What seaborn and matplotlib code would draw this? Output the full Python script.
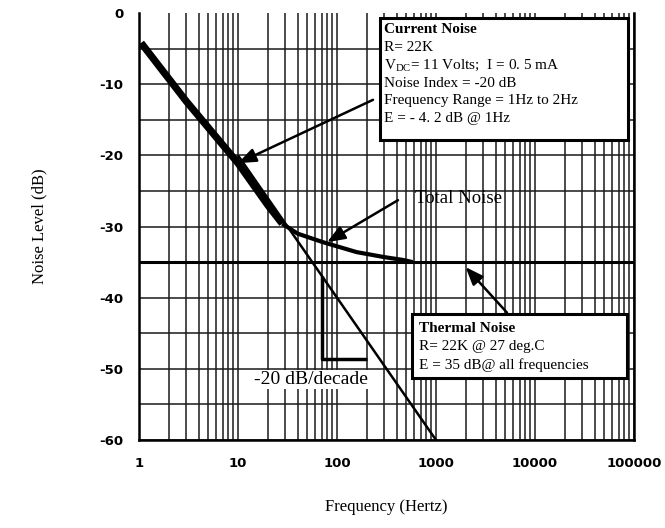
import numpy as np
import pandas as pd
import matplotlib
matplotlib.use("Agg")
import matplotlib.pyplot as plt
import matplotlib.ticker as mticker
from matplotlib.patches import Rectangle
import seaborn as sns

# ---- data ----
current_f = [1.05, 3.0, 10.0, 20.0, 28.0]
current_db = [-4.2, -12.4, -21.1, -27.0, -29.6]

total_f = [28.0, 40.0, 72.0, 158.0, 300.0, 464.0, 580.0]
total_db = [-29.6, -31.0, -32.2, -33.6, -34.3, -34.7, -35.0]

slope_f = [10.0, 1000.0]
slope_db = [-20.0, -60.0]

thermal_f = [1.0, 100000.0]
thermal_db = [-35.0, -35.0]

bracket_f = [70.5, 70.5, 200.0]
bracket_db = [-36.9, -48.6, -48.6]

x_ticks = [1, 10, 100, 1000, 10000, 100000]
x_tick_labels = ["1", "10", "100", "1000", "10000", "100000"]
y_ticks = [0, -10, -20, -30, -40, -50, -60]
y_tick_labels = ["0", "-10", "-20", "-30", "-40", "-50", "-60"]

current_lines = ["Current Noise", "R= 22K", r"V$_{\mathrm{DC}}$= 11 Volts;  I = 0. 5 mA",
                 "Noise Index = -20 dB", "Frequency Range = 1Hz to 2Hz", "E = - 4. 2 dB @ 1Hz"]
thermal_lines = ["Thermal Noise", "R= 22K @ 27 deg.C", "E = 35 dB@ all frequencies"]

sns.set_theme(style="white")
plt.rcParams["font.family"] = ["Liberation Serif", "DejaVu Serif"]
plt.rcParams["mathtext.fontset"] = "custom"
plt.rcParams["mathtext.rm"] = "Liberation Serif"
plt.rcParams["mathtext.it"] = "Liberation Serif:italic"
plt.rcParams["axes.unicode_minus"] = False

fig = plt.figure(figsize=(6.65, 5.28), dpi=100)
ax = fig.add_axes([139 / 665, 1 - 440 / 528, 495 / 665, 427 / 528])

ax.set_xscale("log")
ax.set_xlim(1, 100000)
ax.set_ylim(-60, 0)

# grid
ax.set_xticks(x_ticks)
ax.set_xticklabels(x_tick_labels)
ax.xaxis.set_minor_locator(mticker.LogLocator(base=10, subs=np.arange(2, 10)))
ax.xaxis.set_minor_formatter(mticker.NullFormatter())
ax.set_yticks(y_ticks)
ax.set_yticklabels(y_tick_labels)
ax.yaxis.set_minor_locator(mticker.MultipleLocator(5))
ax.grid(which="both", color="#1a1a1a", linewidth=1.1, linestyle="-")
ax.set_axisbelow(True)
for t in ax.yaxis.get_major_ticks():
    if abs(t.get_loc()) < 1e-9:
        t.gridline.set_visible(False)

def line(fx, dy, lw):
    df = pd.DataFrame({"f": fx, "db": dy})
    sns.lineplot(data=df, x="f", y="db", ax=ax, color="black", linewidth=lw,
                 sort=False, estimator=None, solid_capstyle="butt", zorder=3)

line(thermal_f, thermal_db, 2.2)
line(slope_f, slope_db, 1.8)
line(current_f, current_db, 5.2)
line(total_f, total_db, 3.0)
line(bracket_f, bracket_db, 2.5)

ax.spines["top"].set_visible(False)
for s in ["left", "bottom", "right"]:
    ax.spines[s].set_color("black")
    ax.spines[s].set_linewidth(1.8)

ax.tick_params(axis="both", which="both", direction="out", color="black", width=1.5)
ax.tick_params(axis="both", which="major", length=5, pad=6)
ax.tick_params(axis="both", which="minor", length=4)
ax.tick_params(axis="x", which="major", length=6)
for lab in ax.get_xticklabels() + ax.get_yticklabels():
    lab.set_family(["DejaVu Sans"])
    lab.set_fontsize(9.5)
    lab.set_fontweight("bold")
    lab.set_color("black")

ax.set_xlabel("Frequency (Hertz)", fontsize=12, color="black")
ax.set_ylabel("Noise Level (dB)", fontsize=12, color="black")
ax.xaxis.set_label_coords(0.5, -0.138)
ax.yaxis.set_label_coords(-0.186, 0.5)

# boxes
def box(x0, y0, x1, y1):
    ax.add_patch(Rectangle((x0, y0), x1 - x0, y1 - y0, transform=ax.transAxes,
                           facecolor="white", edgecolor="black", linewidth=2.2, zorder=5))

box(0.487, 0.703, 0.988, 0.988)
cy = [0.962, 0.920, 0.878, 0.836, 0.794, 0.752]
for i, (t, y) in enumerate(zip(current_lines, cy)):
    ax.text(0.495, y, t, transform=ax.transAxes, fontsize=11, va="center", ha="left",
            fontweight="bold" if i == 0 else "normal", color="black", zorder=6)

box(0.552, 0.145, 0.986, 0.295)
ty = [0.262, 0.218, 0.175]
for i, (t, y) in enumerate(zip(thermal_lines, ty)):
    ax.text(0.566, y, t, transform=ax.transAxes, fontsize=11, va="center", ha="left",
            fontweight="bold" if i == 0 else "normal", color="black", zorder=6)

# annotations
arrow = dict(arrowstyle="-|>,head_length=0.9,head_width=0.35", color="black", lw=1.8,
             shrinkA=0, shrinkB=0)
ax.annotate("", xy=(10.0, -21.1), xytext=(231, -12.2), arrowprops=arrow, zorder=7)
ax.annotate("", xy=(79.3, -32.2), xytext=(413, -26.3), arrowprops=arrow, zorder=7)
ax.annotate("", xy=(1990, -35.7), xytext=(5210, -42.1), arrowprops=arrow, zorder=7)

ax.text(614, -26.1, "Total Noise", fontsize=13.5, ha="left", va="center", color="black", zorder=6)
ax.text(54.6, -51.5, "-20 dB/decade", fontsize=14, ha="center", va="center", color="black",
        zorder=6, bbox=dict(facecolor="white", edgecolor="none", pad=1))

fig.savefig("out.png", dpi=100)
